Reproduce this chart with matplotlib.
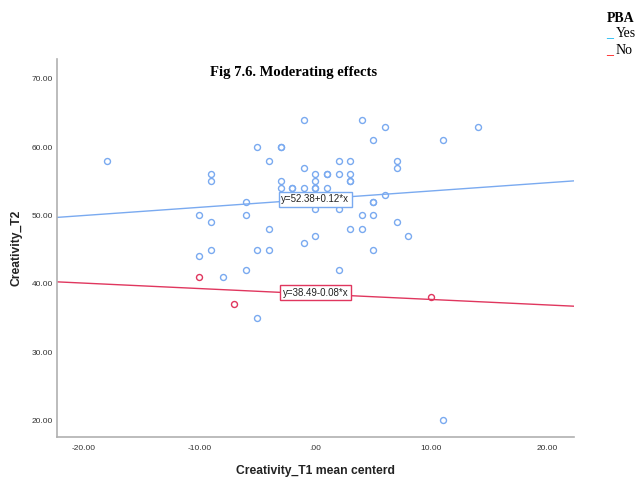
import numpy as np
import matplotlib
matplotlib.use('Agg')
import matplotlib.pyplot as plt

# PBA = Yes (blue)
yes_x = [-18, -10, -10, -9, -9, -9, -9, -8, -6, -6, -6, -5, -5, -5, -4, -4, -4,
         -3, -3, -3, -3, -2, -2, -1, -1, -1, -1, 0, 0, 0, 0, 0, 0, 1, 1, 1,
         2, 2, 2, 2, 3, 3, 3, 3, 3, 4, 4, 4, 5, 5, 5, 5, 5, 6, 6, 7, 7, 7,
         8, 11, 11, 14]
yes_y = [58, 50, 44, 56, 55, 49, 45, 41, 52, 50, 42, 60, 45, 35, 58, 48, 45,
         60, 60, 55, 54, 54, 54, 64, 57, 54, 46, 56, 55, 54, 54, 51, 47, 56, 56, 54,
         58, 56, 51, 42, 58, 56, 55, 55, 48, 64, 50, 48, 61, 52, 52, 50, 45, 63, 53, 58, 57, 49,
         47, 61, 20, 63]

# PBA = No (red)
no_x = [-10, -7, 10]
no_y = [41, 37, 38]

# fitted lines (intercept, slope)
yes_fit = (52.38, 0.12)
no_fit = (38.49, -0.08)
yes_lbl = 'y=52.38+0.12*x'
no_lbl = 'y=38.49-0.08*x'

xticks = [-20, -10, 0, 10, 20]
xtick_lbls = ['-20.00', '-10.00', '.00', '10.00', '20.00']
yticks = [20, 30, 40, 50, 60, 70]
ytick_lbls = ['20.00', '30.00', '40.00', '50.00', '60.00', '70.00']

blue = '#7aaaf0'
red = '#e0365e'

fig = plt.figure(figsize=(6.43, 4.78), dpi=100)
ax = fig.add_axes([0.0882, 0.0864, 0.8045, 0.7902])

xlim = (-22.3, 22.3)
ylim = (17.6, 72.9)
ax.set_xlim(*xlim)
ax.set_ylim(*ylim)

xx = np.array(xlim)
ax.plot(xx, yes_fit[0] + yes_fit[1] * xx, color=blue, lw=1, zorder=2)
ax.plot(xx, no_fit[0] + no_fit[1] * xx, color=red, lw=1, zorder=2)

ax.plot(yes_x, yes_y, 'o', ms=4.3, mfc='none', mec=blue, mew=1, zorder=3)
ax.plot(no_x, no_y, 'o', ms=4.3, mfc='none', mec=red, mew=1, zorder=3)

# equation labels at x=0
ax.text(0, yes_fit[0], yes_lbl, ha='center', va='center', fontsize=7,
        family='Liberation Sans', color='#222222', zorder=4,
        bbox=dict(boxstyle='square,pad=0.25', fc='white', ec=blue, lw=1))
ax.text(0, no_fit[0] + 0.2, no_lbl, ha='center', va='center', fontsize=7,
        family='Liberation Sans', color='#222222', zorder=4,
        bbox=dict(boxstyle='square,pad=0.25', fc='white', ec=red, lw=1))

for s in ['top', 'right']:
    ax.spines[s].set_visible(False)
for s in ['left', 'bottom']:
    ax.spines[s].set_color('#b0b0b0')
    ax.spines[s].set_linewidth(1.2)

ax.set_xticks(xticks)
ax.set_xticklabels(xtick_lbls)
ax.set_yticks(yticks)
ax.set_yticklabels(ytick_lbls)
ax.tick_params(length=0, labelsize=6, labelcolor='#333333')
ax.tick_params(axis='x', pad=6)
ax.tick_params(axis='y', pad=2.5)
for t in ax.get_xticklabels() + ax.get_yticklabels():
    t.set_family('Liberation Sans')

ax.set_xlabel('Creativity_T1 mean centerd', fontsize=8.7, fontweight='bold',
              family='Liberation Sans', color='#222222', labelpad=9)
ax.set_ylabel('Creativity_T2', fontsize=8.7, fontweight='bold',
              family='Liberation Sans', color='#222222', labelpad=6.5)

fig.text(0.456, 0.849, 'Fig 7.6. Moderating effects', ha='center', va='center',
         fontsize=10.5, fontweight='bold', family='Liberation Serif')

# legend drawn as text
fig.text(0.943, 0.962, 'PBA', ha='left', va='center', fontsize=10,
         fontweight='bold', family='Liberation Serif')
fig.text(0.943, 0.929, '_', ha='left', va='center', fontsize=10,
         family='Liberation Serif', color='#00b0f0')
fig.text(0.958, 0.929, 'Yes', ha='left', va='center', fontsize=10,
         family='Liberation Serif')
fig.text(0.943, 0.895, '_', ha='left', va='center', fontsize=10,
         family='Liberation Serif', color='#ff0000')
fig.text(0.958, 0.895, 'No', ha='left', va='center', fontsize=10,
         family='Liberation Serif')

fig.savefig('out.png', dpi=100)
